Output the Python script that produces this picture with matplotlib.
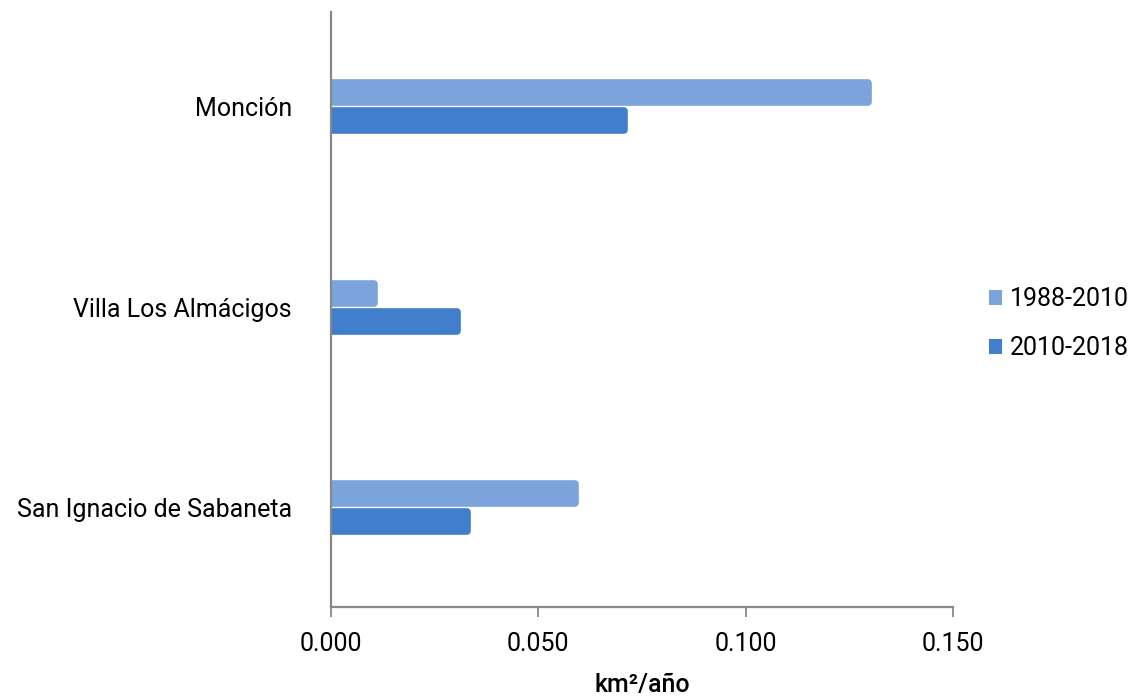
import numpy as np
import matplotlib.pyplot as plt

# datos
lugares = ['Monción', 'Villa Los Almácigos', 'San Ignacio de Sabaneta']
serie_1988_2010 = [0.1305, 0.0113, 0.0598]
serie_2010_2018 = [0.0716, 0.0313, 0.0338]
periodos = ['1988-2010', '2010-2018']
ticks_x = [0.0, 0.05, 0.10, 0.15]

plt.rcParams['font.family'] = ['Roboto', 'DejaVu Sans']

fig = plt.figure(figsize=(11.33, 6.97), dpi=100)
ax = fig.add_axes([0.2921, 0.1291, 0.8411 - 0.2921, 0.9828 - 0.1291])

color_claro = '#7ba4dc'
color_oscuro = '#417ecb'

y = np.arange(len(lugares))[::-1].astype(float)
h = 0.095
off = 0.07
borde = 0.0009  # el borde redondeado alarga la barra un poco

ax.barh(y + off, np.array(serie_1988_2010) - borde, height=h, color=color_claro,
        edgecolor=color_claro, linewidth=5.5, joinstyle='round', label=periodos[0], zorder=2)
ax.barh(y - off, np.array(serie_2010_2018) - borde, height=h, color=color_oscuro,
        edgecolor=color_oscuro, linewidth=5.5, joinstyle='round', label=periodos[1], zorder=2)

ax.set_xlim(0, 0.15)
ax.set_ylim(-0.5, 2.475)
ax.set_xticks(ticks_x)
ax.set_xticklabels(['%.3f' % t for t in ticks_x], fontsize=18)
ax.set_yticks(y)
ax.set_yticklabels(lugares, fontsize=18)
ax.tick_params(axis='y', length=0, pad=28)
ax.tick_params(axis='x', length=7, width=1.3, color='#888888', pad=11)

for s in ['top', 'right']:
    ax.spines[s].set_visible(False)
for s in ['left', 'bottom']:
    ax.spines[s].set_color('#888888')
    ax.spines[s].set_linewidth(1.6)
    ax.spines[s].set_zorder(3)

ax.set_xlabel('km²/año', fontsize=18, fontweight='medium', labelpad=12)

leg = ax.legend(loc='center left', bbox_to_anchor=(1.022, 0.476), frameon=False,
                fontsize=18, handlelength=0.5, handleheight=0.5,
                handletextpad=0.33, labelspacing=1.0)
for hdl in leg.legend_handles:
    hdl.set_linewidth(0)

fig.savefig('out.png', dpi=100)
plt.close()
